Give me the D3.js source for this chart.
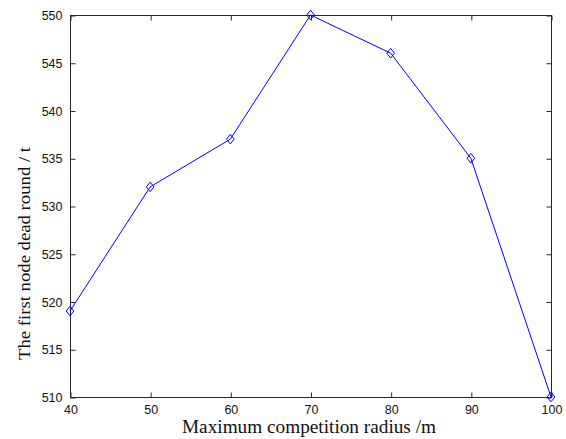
<!DOCTYPE html>
<html>
<head>
<meta charset="utf-8">
<script src="https://cdn.jsdelivr.net/npm/d3@7"></script>
<style>
  html, body { margin: 0; padding: 0; background: #fff; }
  svg { display: block; }
</style>
</head>
<body>
<script>
// Competition radius (m) vs. round in which the first node dies
const radius = [40, 50, 60, 70, 80, 90, 100];
const firstDeadRound = [519, 532, 537, 550, 546, 535, 510];
const xTicks = [40, 50, 60, 70, 80, 90, 100];
const yTicks = [510, 515, 520, 525, 530, 535, 540, 545, 550];

const W = 566, H = 439;
const m = { left: 70, top: 15, right: 15, bottom: 42 };
const pw = 551 - m.left, ph = 397 - m.top;

const svg = d3.select("body").append("svg").attr("width", W).attr("height", H);

const x = d3.scaleLinear().domain([40, 100]).range([m.left, m.left + pw]);
const y = d3.scaleLinear().domain([510, 550]).range([m.top + ph, m.top]);

const g = svg.append("g");

// frame
g.append("rect")
  .attr("x", m.left + 0.5).attr("y", m.top + 0.5)
  .attr("width", pw).attr("height", ph)
  .attr("fill", "none").attr("stroke", "#262626").attr("stroke-width", 1);

const tickLen = 5;
const tickFont = "'Liberation Sans', Arial, sans-serif";

// bottom axis with inward ticks
const xb = g.append("g").attr("transform", `translate(0.5,${m.top + ph + 0.5})`)
  .call(d3.axisBottom(x).tickValues(xTicks).tickSize(-tickLen).tickPadding(8).tickFormat(d3.format("d")));
// top mirrored ticks
const xt = g.append("g").attr("transform", `translate(0.5,${m.top + 0.5})`)
  .call(d3.axisTop(x).tickValues(xTicks).tickSize(-tickLen).tickFormat(""));
// left axis with inward ticks
const yl = g.append("g").attr("transform", `translate(${m.left + 0.5},0.5)`)
  .call(d3.axisLeft(y).tickValues(yTicks).tickSize(-tickLen).tickPadding(8).tickFormat(d3.format("d")));
// right mirrored ticks
const yr = g.append("g").attr("transform", `translate(${m.left + pw + 0.5},0.5)`)
  .call(d3.axisRight(y).tickValues(yTicks).tickSize(-tickLen).tickFormat(""));

[xb, xt, yl, yr].forEach(a => {
  a.select(".domain").remove();
  a.selectAll(".tick line").attr("stroke", "#262626");
  a.selectAll(".tick text")
    .attr("fill", "#111")
    .style("font-family", tickFont)
    .style("font-size", "12.5px");
});
xb.selectAll(".tick text").attr("dy", "0.71em");

// data line
const pts = radius.map((r, i) => [r, firstDeadRound[i]]);
g.append("path")
  .datum(pts)
  .attr("fill", "none")
  .attr("stroke", "#0000ff")
  .attr("stroke-width", 1)
  .attr("d", d3.line().x(d => x(d[0])).y(d => y(d[1])));

// diamond markers
const s = 4.8;
g.selectAll(".mk").data(pts).enter().append("path")
  .attr("class", "mk")
  .attr("fill", "none")
  .attr("stroke", "#0000ff")
  .attr("stroke-width", 1)
  .attr("d", d => {
    const cx = x(d[0]), cy = y(d[1]);
    return `M${cx},${cy - s}L${cx + s * 0.8},${cy}L${cx},${cy + s}L${cx - s * 0.8},${cy}Z`;
  });

// axis titles
const titleFont = "'Liberation Serif', 'Times New Roman', serif";
svg.append("text")
  .attr("x", 309).attr("y", 433)
  .attr("text-anchor", "middle")
  .style("font-family", titleFont).style("font-size", "19px")
  .attr("fill", "#111")
  .attr("textLength", 254).attr("lengthAdjust", "spacingAndGlyphs")
  .text("Maximum competition radius /m");

svg.append("text")
  .attr("transform", `translate(30,253.5) rotate(-90)`)
  .attr("text-anchor", "middle")
  .style("font-family", titleFont).style("font-size", "17px")
  .attr("fill", "#111")
  .attr("textLength", 213).attr("lengthAdjust", "spacingAndGlyphs")
  .text("The first node dead round / t");
</script>
</body>
</html>
